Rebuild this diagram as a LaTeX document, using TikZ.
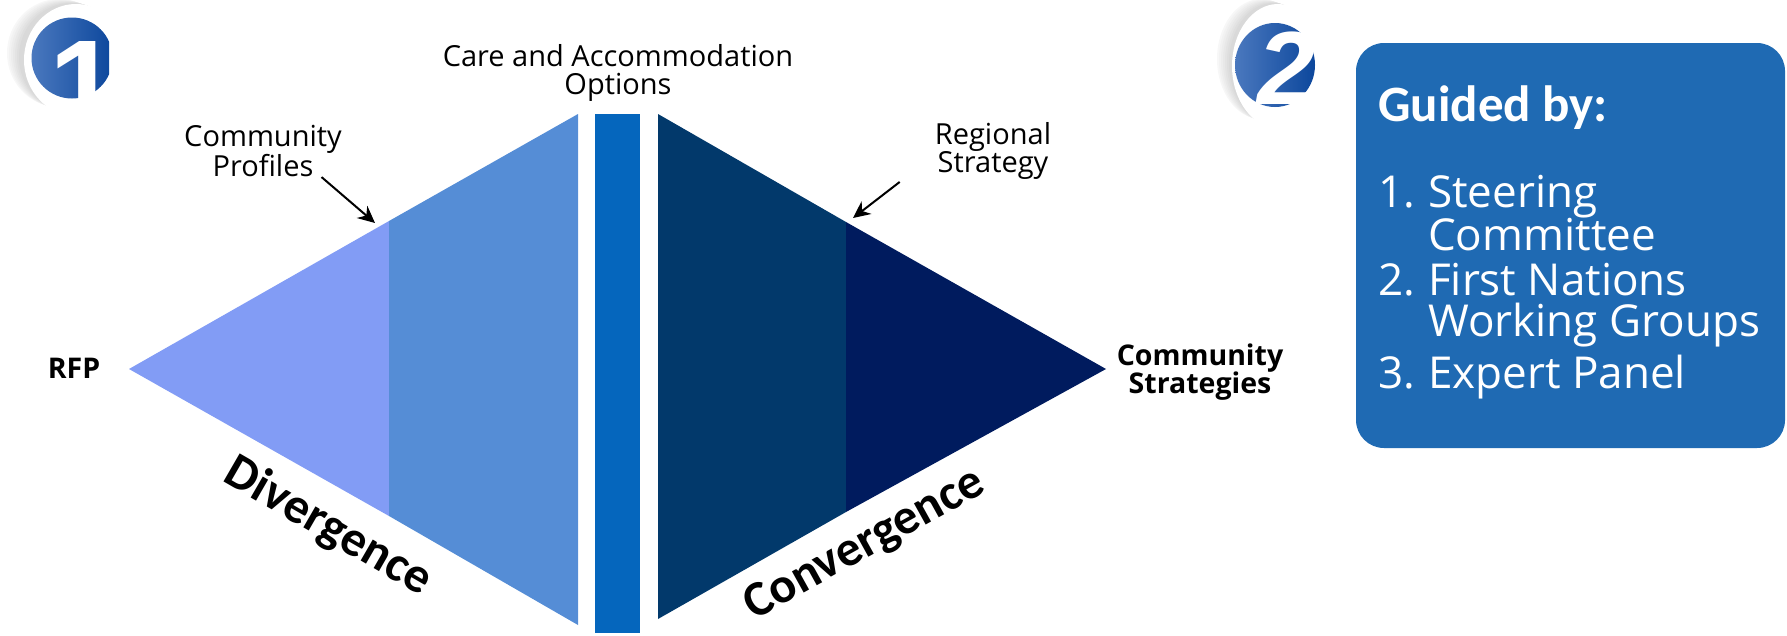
\documentclass[tikz,border=0pt]{standalone}
\usepackage{fontspec}
\setmainfont{Open Sans}
\newfontfamily\headfont{Carlito}
\newfontfamily\digitfont{Liberation Sans}
\usepackage{tikz}
\usetikzlibrary{positioning, arrows.meta}
\definecolor{paleblue}{HTML}{829CF5}
\definecolor{midblue}{HTML}{558DD6}
\definecolor{barblue}{HTML}{0566BD}
\definecolor{deepblue}{HTML}{02396B}
\definecolor{nightblue}{HTML}{001B5E}
\definecolor{boxblue}{HTML}{1F6AB3}
\definecolor{badgelight}{HTML}{4A78BE}
\definecolor{badgedark}{HTML}{0C479C}
\tikzset{
    label/.style={align=center, text=black, font=\fontsize{29}{28.5}\selectfont, inner sep=0pt}, % the plain captions
    boldlabel/.style={label, font=\fontsize{28.5}{28.5}\selectfont\bfseries},
    stage/.style={text=black, inner sep=0pt, font=\headfont\fontsize{50}{54}\selectfont\bfseries},
    pointer/.style={-{Stealth[length=17pt, width=16pt]}, line width=2pt, black},
    guide/.style={text=white, align=left, anchor=west, inner sep=0pt, font=\fontsize{44}{41}\selectfont},
    digit/.style={text=white, inner sep=0pt, font=\digitfont\fontsize{125}{125}\selectfont\bfseries},
}
\newcommand{\guideitem}[3]{\makebox[50pt][l]{#1}#2\ifx&#3&\else\\\hspace*{50pt}#3\fi}
\begin{document}
\begin{tikzpicture}[x=1pt, y=-1pt]
    \useasboundingbox (0,0) rectangle (1787,635);

    % badge 1
    \foreach \g in {3,5,7,9,11,13,15} {
        \fill[black!\g!white] (74-18+\g,58-6+\g/3) ellipse (52 and 54);
    }
    \fill[white] (76,60) ellipse (52 and 56);
    \begin{scope}
        \clip (0,0) rectangle (109,120);
        \shade[left color=badgelight, right color=badgedark] (72,58) circle (40.5);
        \node[digit] (one) at (84,84) {1};
    \end{scope}

    % badge 2
    \foreach \g in {3,5,7,9,11,13,15} {
        \fill[black!\g!white] (1276-18+\g,64-6+\g/3) ellipse (44 and 60);
    }
    \fill[white] (1278,66) ellipse (46 and 62);
    \begin{scope}
        \clip (1225,0) rectangle (1315,125);
        \shade[left color=badgelight, right color=badgedark] (1275,65) ellipse (40 and 42);
        \node[digit, font=\digitfont\fontsize{104}{104}\selectfont\bfseries\itshape] (two) at (1286,68) {2};
    \end{scope}

    % left wedge
    \fill[paleblue] (129,369) -- (389,221) -- (389,516) -- cycle;
    \fill[midblue] (389,221) -- (578,114) -- (578,625) -- (389,516) -- cycle;
    % middle bar
    \fill[barblue] (595,114) rectangle (640,633);
    % right wedge
    \fill[deepblue] (658,114) -- (846,222) -- (846,512) -- (658,619) -- cycle;
    \fill[nightblue] (846,222) -- (1106,369) -- (846,512) -- cycle;

    \coordinate (profilestip) at (375,223);
    \coordinate (regionaltip) at (853,218);

    \node[label] (options) at (618,73) {Care and Accommodation\\Options};
    \node[label] (profiles) at (263,151) {Community\\Profiles};
    \node[label] (regional) at (993,151) {Regional\\Strategy};
    \node[boldlabel] (rfp) at (74,368) {RFP};
    \node[boldlabel] (strategies) at (1200,372) {Community\\Strategies};
    \node[stage, rotate=-30] (divergence) at (328,527) {Divergence};
    \node[stage, rotate=29] (convergence) at (865,545) {Convergence};

    \draw[pointer] (profiles.-24) -- (profilestip);
    \draw[pointer] ([xshift=-35pt, yshift=-2pt]regional.south west) -- (regionaltip);

    % guided by box
    \node[fill=boxblue, rounded corners=28pt, minimum width=429pt, minimum height=405pt] (box) at (1570.5,245.5) {};
    \node[text=white, anchor=west, inner sep=0pt, font=\headfont\fontsize{51}{53}\selectfont\bfseries] (guided) at (1378,108) {Guided by:};
    \node[guide] (steering) at (1378,213) {\guideitem{1.}{Steering}{Committee}};
    \node[guide] (nations) at (1378,305) {\guideitem{2.}{First Nations}{Working Groups}};
    \node[guide] (panel) at (1378,377) {\guideitem{3.}{Expert Panel}{}};
\end{tikzpicture}
\end{document}
